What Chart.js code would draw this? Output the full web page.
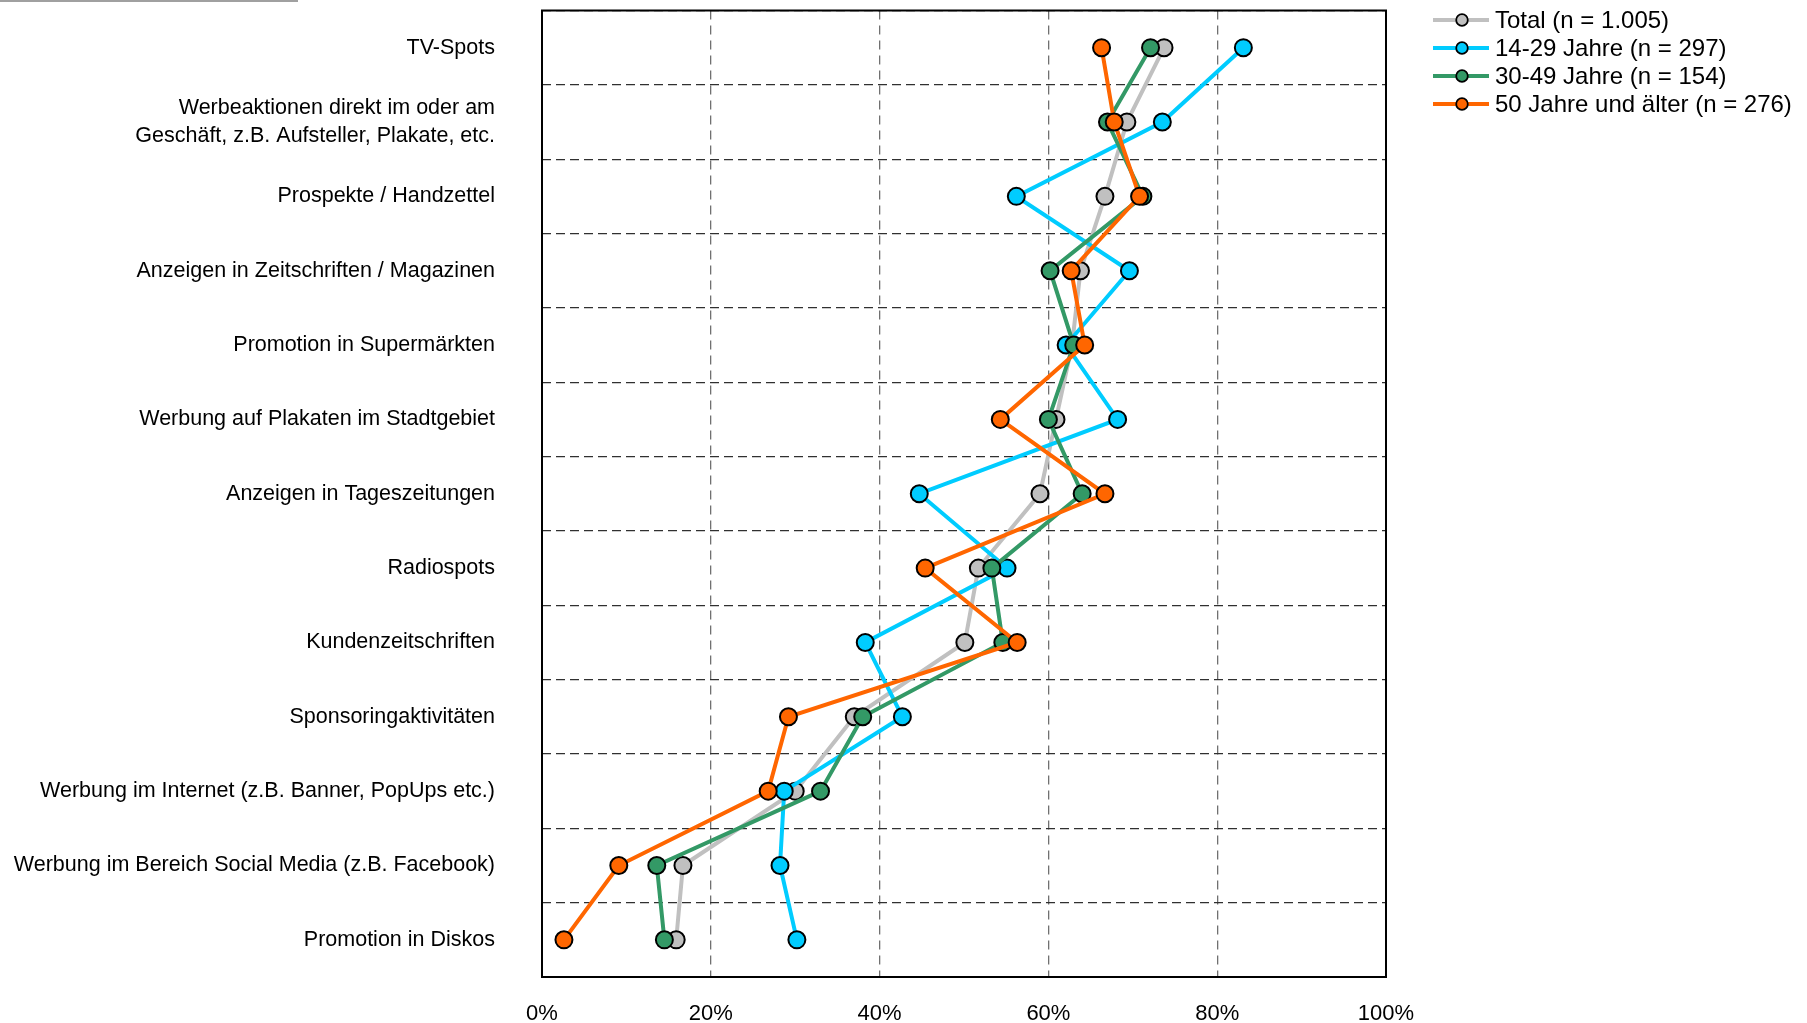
<!DOCTYPE html>
<html>
<head>
<meta charset="utf-8">
<script src="https://cdn.jsdelivr.net/npm/chart.js@4"></script>
<style>
  html, body { margin: 0; padding: 0; background: #fff; }
  #wrap { width: 1807px; height: 1023px; position: relative; }
</style>
</head>
<body>
<div id="wrap"><canvas id="chart" width="1807" height="1023"></canvas></div>
<script>
// Kategorien (von oben nach unten)
const categories = [
  'TV-Spots',
  ['Werbeaktionen direkt im oder am', 'Geschäft, z.B. Aufsteller, Plakate, etc.'],
  'Prospekte / Handzettel',
  'Anzeigen in Zeitschriften / Magazinen',
  'Promotion in Supermärkten',
  'Werbung auf Plakaten im Stadtgebiet',
  'Anzeigen in Tageszeitungen',
  'Radiospots',
  'Kundenzeitschriften',
  'Sponsoringaktivitäten',
  'Werbung im Internet (z.B. Banner, PopUps etc.)',
  'Werbung im Bereich Social Media (z.B. Facebook)',
  'Promotion in Diskos'
];

const seriesNames = [
  'Total (n = 1.005)',
  '14-29 Jahre (n = 297)',
  '30-49 Jahre (n = 154)',
  '50 Jahre und älter (n = 276)'
];

// Werte in %
const total = [73.7, 69.3, 66.7, 63.8, 62.8, 60.9, 59.0, 51.7, 50.1, 37.0, 30.0, 16.7, 15.9];
const age14to29 = [83.1, 73.5, 56.2, 69.6, 62.1, 68.2, 44.7, 55.1, 38.3, 42.7, 28.7, 28.2, 30.2];
const age30to49 = [72.1, 67.0, 71.2, 60.2, 63.0, 60.0, 64.0, 53.3, 54.6, 38.0, 33.0, 13.6, 14.5];
const age50plus = [66.3, 67.8, 70.8, 62.7, 64.3, 54.3, 66.7, 45.4, 56.3, 29.2, 26.8, 9.1, 2.6];

const xTicks = [0, 20, 40, 60, 80, 100];

const colors = ['#c0c0c0', '#00ccff', '#339966', '#ff6600'];
const FONT = "'Liberation Sans', Arial, sans-serif";

const values = [total, age14to29, age30to49, age50plus];

const datasets = values.map((vals, i) => ({
  label: seriesNames[i],
  data: vals,
  borderColor: colors[i],
  backgroundColor: colors[i],
  borderWidth: 4,
  pointRadius: 8.5,
  pointHoverRadius: 8.5,
  pointBorderWidth: 2,
  pointBorderColor: '#000',
  pointBackgroundColor: colors[i],
  tension: 0,
  fill: false,
  order: 4 - i // letzte Serie oben
}));

// Rahmen, Legende, Linie oben links
const decorations = {
  id: 'decorations',
  beforeDatasetsDraw(chart) {
    const { ctx, chartArea: a } = chart;
    ctx.save();
    ctx.setLineDash([]);
    ctx.strokeStyle = '#000';
    ctx.lineWidth = 2;
    ctx.strokeRect(a.left, a.top, a.right - a.left, a.bottom - a.top);
    ctx.restore();
  },
  afterDraw(chart) {
    const { ctx } = chart;
    ctx.save();
    ctx.fillStyle = '#a0a0a0';
    ctx.fillRect(0, 0, 298, 2);

    const rowsY = [20, 48, 76, 104];
    ctx.font = '24px ' + FONT;
    ctx.textBaseline = 'middle';
    ctx.textAlign = 'left';
    seriesNames.forEach((name, i) => {
      const y = rowsY[i];
      ctx.strokeStyle = colors[i];
      ctx.lineWidth = 4;
      ctx.beginPath();
      ctx.moveTo(1433, y);
      ctx.lineTo(1489, y);
      ctx.stroke();
      ctx.beginPath();
      ctx.arc(1462, y, 5.8, 0, Math.PI * 2);
      ctx.fillStyle = colors[i];
      ctx.fill();
      ctx.lineWidth = 1.8;
      ctx.strokeStyle = '#000';
      ctx.stroke();
      ctx.fillStyle = '#000';
      ctx.fillText(name, 1495, y + 1);
    });
    ctx.restore();
  }
};

new Chart(document.getElementById('chart').getContext('2d'), {
  type: 'line',
  data: { labels: categories, datasets: datasets },
  options: {
    indexAxis: 'y',
    responsive: false,
    animation: false,
    events: [],
    layout: { padding: { top: 7, right: 421, left: 0, bottom: 0 } },
    plugins: { legend: { display: false }, tooltip: { enabled: false } },
    scales: {
      x: {
        type: 'linear',
        min: 0,
        max: 100,
        afterBuildTicks: (scale) => { scale.ticks = xTicks.map(v => ({ value: v })); },
        afterFit: (scale) => {
          scale.height = 46;
          scale.paddingLeft = 0;
          scale.paddingRight = 0;
        },
        ticks: {
          callback: (v) => v + '%',
          font: { family: FONT, size: 22 },
          color: '#000',
          padding: 24,
          maxRotation: 0
        },
        grid: { color: '#707070', lineWidth: 1.3, drawTicks: false },
        border: { display: false, dash: [9, 6] }
      },
      y: {
        type: 'category',
        offset: true,
        afterFit: (scale) => {
          scale.width = 542;
          scale.paddingTop = 0;
          scale.paddingBottom = 0;
        },
        ticks: {
          font: { family: FONT, size: 21.5, lineHeight: 1.3 },
          color: '#000',
          padding: 47,
          autoSkip: false
        },
        grid: { offset: true, color: '#303030', lineWidth: 1.2, drawTicks: false },
        border: { display: false, dash: [9, 5] }
      }
    }
  },
  plugins: [decorations]
});
</script>
</body>
</html>
